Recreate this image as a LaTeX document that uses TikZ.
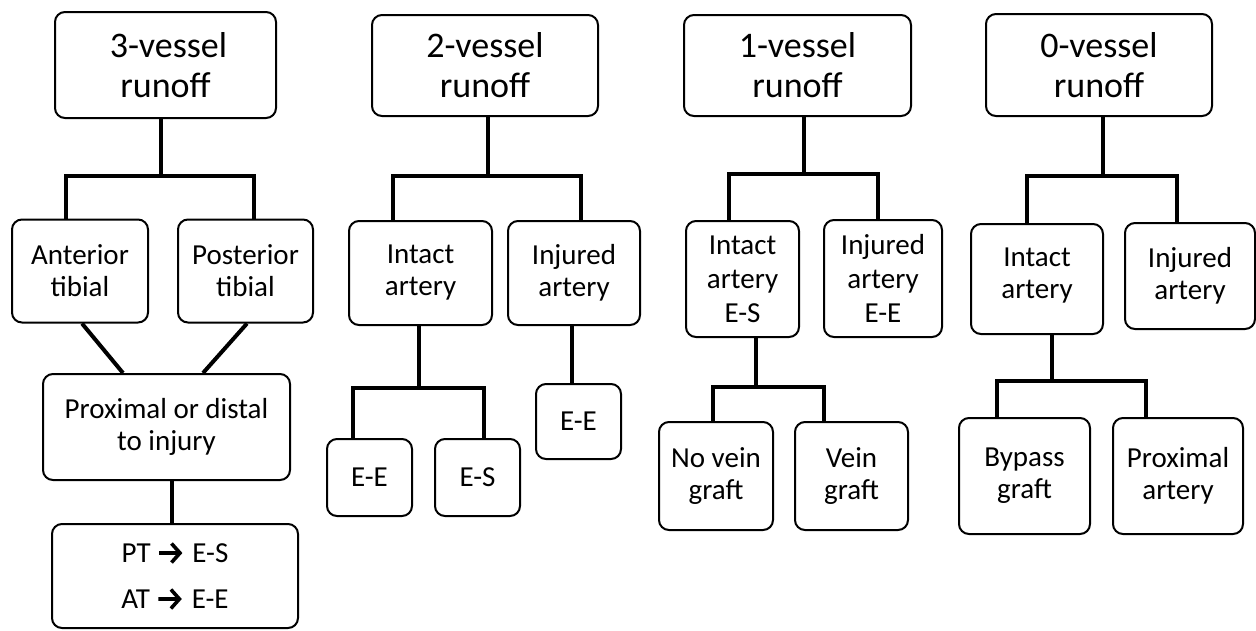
\documentclass[tikz,border=0pt]{standalone}
\usepackage{fontspec}
\setmainfont{Carlito}
\newcommand\heavyarrow{\tikz[baseline=-9pt,x=1pt,y=1pt]{\draw[sharp corners, line width=3.6pt, line join=miter, line cap=butt] (0,0) -- (21,0) (12.5,9.5) -- (21,0) -- (12.5,-9.5);}\hspace{4pt}}
\begin{document}
\begin{tikzpicture}[x=1pt,y=-1pt,
  box/.style={draw, line width=2pt, rounded corners=10pt, align=center, inner sep=0pt,
    font=\fontsize{29}{32}\selectfont},
  topbox/.style={box, font=\fontsize{36}{40}\selectfont},
  conn/.style={line width=4pt}]
\useasboundingbox (0,0) rectangle (1256,630);
% column 1
\node[topbox, minimum width=221pt, minimum height=106pt] (t3) at (165.5,65) {\,3-vessel\\runoff};
\node[box, minimum width=136pt, minimum height=103pt] (at) at (80,271) {Anterior\\tibial};
\node[box, minimum width=135pt, minimum height=103pt] (pt) at (245.5,271) {Posterior\\tibial};
\node[box, minimum width=247pt, minimum height=106pt] (pd) at (166.5,427) {Proximal or distal\\to injury};
\node[box, minimum width=246pt, minimum height=104pt, font=\fontsize{29}{46}\selectfont] (pa) at (175,576) {PT \heavyarrow\ E-S\\AT \heavyarrow\ E-E};
\draw[conn] ([xshift=-4.5pt]t3.south) -- ++(0,57) -| ([xshift=-14pt]at.north);
\draw[conn] ([xshift=-4.5pt]t3.south) -- ++(0,57) -| ([xshift=8.5pt]pt.north);
\draw[conn] ([xshift=2pt]at.south) -- ([xshift=-43.5pt]pd.north);
\draw[conn] ([xshift=1.5pt]pt.south) -- ([xshift=36.5pt]pd.north);
\draw[conn] ([xshift=5.5pt]pd.south) -- ([xshift=-3pt]pa.north);
% column 2
\node[topbox, minimum width=226pt, minimum height=101pt] (t2) at (485,65.5) {2-vessel\\runoff};
\node[box, minimum width=143pt, minimum height=104pt] (ia2) at (420.5,273) {Intact\\artery};
\node[box, minimum width=132pt, minimum height=104pt] (ij2) at (574,273) {Injured\\artery};
\node[box, minimum width=85pt, minimum height=77pt] (ee2a) at (369.5,477.5) {E-E};
\node[box, minimum width=85pt, minimum height=77pt] (es2) at (477.5,477.5) {E-S};
\node[box, minimum width=85pt, minimum height=75pt] (ee2b) at (578.5,421.5) {E-E};
\draw[conn] ([xshift=3pt]t2.south) -- ++(0,59) -| ([xshift=-27.5pt]ia2.north);
\draw[conn] ([xshift=3pt]t2.south) -- ++(0,59) -| ([xshift=7pt]ij2.north);
\draw[conn] ([xshift=-1.5pt]ia2.south) -- ++(0,62) -| ([xshift=-16.5pt]ee2a.north);
\draw[conn] ([xshift=-1.5pt]ia2.south) -- ++(0,62) -| ([xshift=6.5pt]es2.north);
\draw[conn] ([xshift=-2pt]ij2.south) -- ([xshift=-6.5pt]ee2b.north);
% column 3
\node[topbox, minimum width=227pt, minimum height=101pt] (t1) at (797.5,65.5) {1-vessel\\runoff};
\node[box, minimum width=113pt, minimum height=116pt, font=\fontsize{29}{34}\selectfont] (ia1) at (742.5,279) {Intact\\artery\\E-S};
\node[box, minimum width=118pt, minimum height=117pt, font=\fontsize{29}{34}\selectfont] (ij1) at (883,278.5) {Injured\\artery\\E-E};
\node[box, minimum width=114pt, minimum height=108pt] (nv) at (716,476) {No vein\\graft};
\node[box, minimum width=113pt, minimum height=108pt] (vg) at (851.5,476) {Vein\\graft};
\draw[conn] ([xshift=6.5pt]t1.south) -- ++(0,57) -| ([xshift=-13.5pt]ia1.north);
\draw[conn] ([xshift=6.5pt]t1.south) -- ++(0,57) -| ([xshift=-5pt]ij1.north);
\draw[conn] ([xshift=13.5pt]ia1.south) -- ++(0,49) -| ([xshift=-3pt]nv.north);
\draw[conn] ([xshift=13.5pt]ia1.south) -- ++(0,49) -| ([xshift=-27.5pt]vg.north);
% column 4
\node[topbox, minimum width=226pt, minimum height=102pt] (t0) at (1099,65) {0-vessel\\runoff};
\node[box, minimum width=132pt, minimum height=110pt] (ia0) at (1037,279) {Intact\\artery\rule[-12pt]{0pt}{1pt}};
\node[box, minimum width=130pt, minimum height=106pt] (ij0) at (1190,276) {Injured\\artery};
\node[box, minimum width=131pt, minimum height=116pt] (bg) at (1024.5,476) {Bypass\\graft};
\node[box, minimum width=130pt, minimum height=116pt] (pa0) at (1178,476) {Proximal\\artery};
\draw[conn] ([xshift=4pt]t0.south) -- ++(0,59) -| ([xshift=-10pt]ia0.north);
\draw[conn] ([xshift=4pt]t0.south) -- ++(0,59) -| ([xshift=-13pt]ij0.north);
\draw[conn] ([xshift=15pt]ia0.south) -- ++(0,46) -| ([xshift=-27.5pt]bg.north);
\draw[conn] ([xshift=15pt]ia0.south) -- ++(0,46) -| ([xshift=-32pt]pa0.north);
\end{tikzpicture}
\end{document}
